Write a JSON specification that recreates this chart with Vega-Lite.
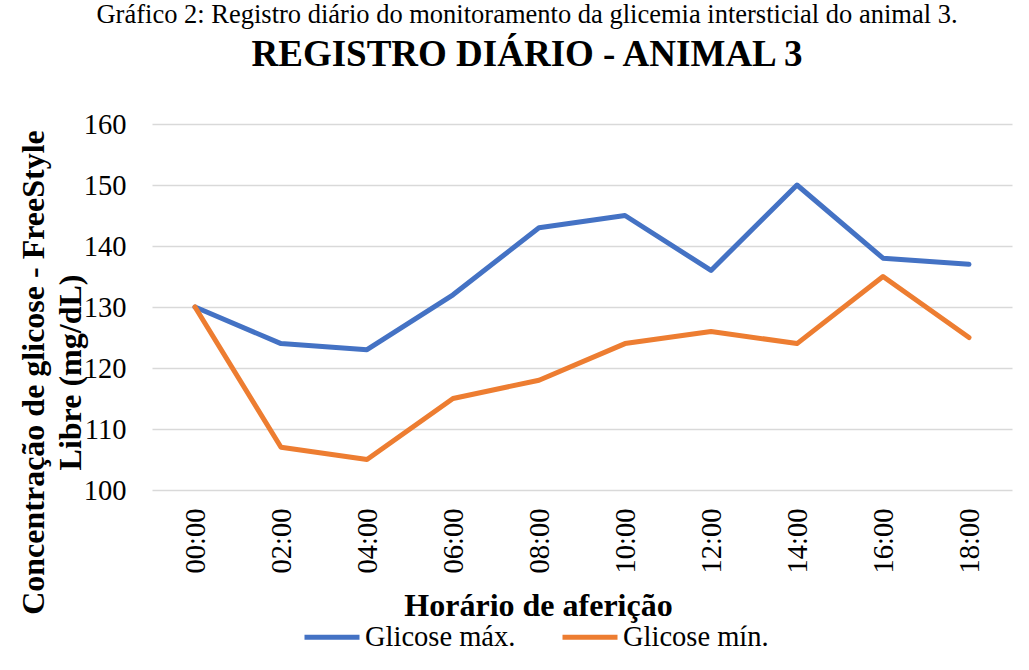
{
  "$schema": "https://vega.github.io/schema/vega-lite/v6.json",
  "autosize": {"type": "none"},
  "width": 860,
  "height": 366,
  "padding": {"left": 152, "top": 124, "right": 17, "bottom": 180},
  "background": "white",
  "title": {
    "text": "Gráfico 2: Registro diário do monitoramento da glicemia intersticial do animal 3.",
    "subtitle": "REGISTRO DIÁRIO - ANIMAL 3",
    "anchor": "middle",
    "dx": -55,
    "offset": 37,
    "font": "Liberation Serif",
    "fontSize": 26.5,
    "fontWeight": "normal",
    "color": "#000000",
    "subtitleFont": "Liberation Serif",
    "subtitleFontSize": 37,
    "subtitleFontWeight": "bold",
    "subtitleColor": "#000000",
    "subtitlePadding": 9
  },
  "data": {
    "values": [
      {"hora": "00:00", "serie": "Glicose máx.", "valor": 130},
      {"hora": "02:00", "serie": "Glicose máx.", "valor": 124},
      {"hora": "04:00", "serie": "Glicose máx.", "valor": 123},
      {"hora": "06:00", "serie": "Glicose máx.", "valor": 132},
      {"hora": "08:00", "serie": "Glicose máx.", "valor": 143},
      {"hora": "10:00", "serie": "Glicose máx.", "valor": 145},
      {"hora": "12:00", "serie": "Glicose máx.", "valor": 136},
      {"hora": "14:00", "serie": "Glicose máx.", "valor": 150},
      {"hora": "16:00", "serie": "Glicose máx.", "valor": 138},
      {"hora": "18:00", "serie": "Glicose máx.", "valor": 137},
      {"hora": "00:00", "serie": "Glicose mín.", "valor": 130},
      {"hora": "02:00", "serie": "Glicose mín.", "valor": 107},
      {"hora": "04:00", "serie": "Glicose mín.", "valor": 105},
      {"hora": "06:00", "serie": "Glicose mín.", "valor": 115},
      {"hora": "08:00", "serie": "Glicose mín.", "valor": 118},
      {"hora": "10:00", "serie": "Glicose mín.", "valor": 124},
      {"hora": "12:00", "serie": "Glicose mín.", "valor": 126},
      {"hora": "14:00", "serie": "Glicose mín.", "valor": 124},
      {"hora": "16:00", "serie": "Glicose mín.", "valor": 135},
      {"hora": "18:00", "serie": "Glicose mín.", "valor": 125}
    ]
  },
  "mark": {"type": "line", "strokeWidth": 5, "strokeCap": "round", "strokeJoin": "round"},
  "encoding": {
    "x": {
      "field": "hora",
      "type": "ordinal",
      "scale": {"type": "point", "padding": 0.5},
      "axis": {
        "title": "Horário de aferição",
        "titleFont": "Liberation Serif",
        "titleFontSize": 32,
        "titleFontWeight": "bold",
        "titleColor": "#000000",
        "titleX": 386,
        "titleY": 125,
        "titleAlign": "center",
        "titleBaseline": "alphabetic",
        "labelAngle": 270,
        "labelAlign": "right",
        "labelBaseline": "middle",
        "labelFont": "Liberation Serif",
        "labelFontSize": 28.5,
        "labelColor": "#000000",
        "labelPadding": 18,
        "ticks": false,
        "tickSize": 0,
        "domain": false,
        "grid": false
      }
    },
    "y": {
      "field": "valor",
      "type": "quantitative",
      "scale": {"domain": [100, 160], "nice": false, "zero": false},
      "axis": {
        "values": [100, 110, 120, 130, 140, 150, 160],
        "title": ["Concentração de glicose - FreeStyle", "Libre (mg/dL)"],
        "titleFont": "Liberation Serif",
        "titleFontSize": 32,
        "titleFontWeight": "bold",
        "titleColor": "#000000",
        "titleAngle": -90,
        "titleX": -109,
        "titleY": 248,
        "titleAlign": "center",
        "titleBaseline": "alphabetic",
        "titleLineHeight": 37,
        "labelFont": "Liberation Serif",
        "labelFontSize": 28.5,
        "labelColor": "#000000",
        "labelPadding": 26,
        "labelBaseline": "middle",
        "ticks": false,
        "tickSize": 0,
        "domain": false,
        "grid": true,
        "gridColor": "#D9D9D9",
        "gridWidth": 1.5
      }
    },
    "color": {
      "field": "serie",
      "type": "nominal",
      "scale": {"domain": ["Glicose máx.", "Glicose mín."], "range": ["#4472C4", "#ED7D31"]},
      "legend": {
        "title": null,
        "orient": "none",
        "direction": "horizontal",
        "legendX": 150,
        "legendY": 483,
        "symbolType": "stroke",
        "symbolSize": 3025,
        "symbolStrokeWidth": 5,
        "labelFont": "Liberation Serif",
        "labelFontSize": 28.5,
        "labelColor": "#000000",
        "labelOffset": 3,
        "columnPadding": 36
      }
    }
  },
  "config": {"font": "Liberation Serif", "view": {"stroke": null}}
}
